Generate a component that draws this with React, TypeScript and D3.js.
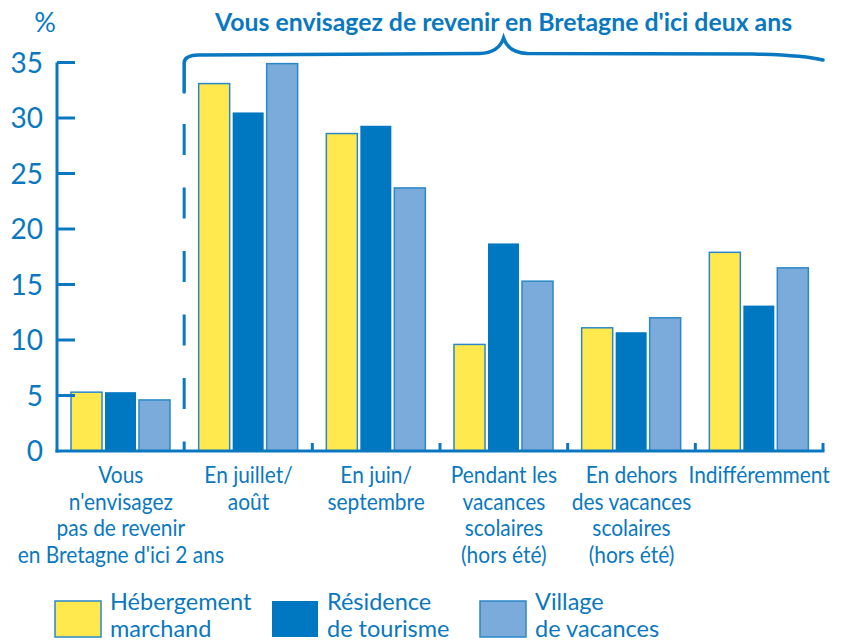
import React from "react";
import * as d3 from "d3";

// categories (x axis), with their wrapped label lines
const categories = ["non", "juillet-aout", "juin-sept", "scolaires", "hors-scolaires", "indiff"];
const categoryLines = [
  ["Vous", "n'envisagez", "pas de revenir", "en Bretagne d'ici 2 ans"],
  ["En juillet/", "août"],
  ["En juin/", "septembre"],
  ["Pendant les", "vacances", "scolaires", "(hors été)"],
  ["En dehors", "des vacances", "scolaires", "(hors été)"],
  ["Indifféremment"],
];

// series
const seriesNames = ["Hébergement marchand", "Résidence de tourisme", "Village de vacances"];
const legendLines = [
  ["Hébergement", "marchand"],
  ["Résidence", "de tourisme"],
  ["Village", "de vacances"],
];
const hebergement = [5.3, 33.1, 28.6, 9.6, 11.1, 17.9];
const residence = [5.3, 30.5, 29.3, 18.7, 10.7, 13.1];
const village = [4.6, 34.9, 23.7, 15.3, 12.0, 16.5];
const seriesValues = [hebergement, residence, village];

const yTicks = [0, 5, 10, 15, 20, 25, 30, 35];
const title = "Vous envisagez de revenir en Bretagne d'ici deux ans";

const BLUE = "#0a78c0";
const fills = ["#ffe94f", "#0078c1", "#7babda"];
const strokes = ["#2a88c8", "none", "#2a88c8"];
const FONT = "Lato, 'Open Sans', sans-serif";

export default function App() {
  const width = 845;
  const height = 642;
  const left = 57;
  const right = 823;
  const top = 62.5;
  const bottom = 451;

  const y = d3.scaleLinear().domain([0, 35]).range([bottom, top]);
  const x = d3.scaleBand().domain(categories).range([left, right]).padding(0);
  const xi = d3
    .scaleBand()
    .domain(seriesNames)
    .range([14, 113])
    .paddingInner(0.088)
    .paddingOuter(0);

  const x0 = x(categories[1])! - 0.5; // dashed separator / bracket start
  const x1 = right;
  const mid = (x0 + x1) / 2;

  const bracket =
    `M${x0},92 L${x0},63 Q${x0},55.5 ${x0 + 14},55 ` +
    `L${mid - 24},53.5 Q${mid - 5},53 ${mid},38 ` +
    `Q${mid + 5},53 ${mid + 24},53.5 L${x1 - 70},54 Q${x1 - 20},55 ${x1},60`;

  return (
    <svg
      width={width}
      height={height}
      style={{ position: "absolute", left: 0, top: 0, background: "#fff" }}
      fontFamily={FONT}
    >
      {/* % label */}
      <text x={45} y={32} fontSize={27} fill={BLUE} textAnchor="middle">
        %
      </text>

      {/* title + curly bracket */}
      <text
        x={mid}
        y={31}
        fontSize={24}
        fontWeight="bold"
        fill={BLUE}
        textAnchor="middle"
        textLength={577}
        lengthAdjust="spacingAndGlyphs"
      >
        {title}
      </text>
      <path d={bracket} fill="none" stroke={BLUE} strokeWidth={3.5} strokeLinecap="round" />
      <line
        x1={x0}
        x2={x0}
        y1={124}
        y2={bottom}
        stroke={BLUE}
        strokeWidth={3}
        strokeDasharray="31 32.5"
      />

      {/* bars */}
      {categories.map((c, ci) => (
        <g key={c} transform={`translate(${x(c)},0)`}>
          {seriesNames.map((s, si) => {
            const v = seriesValues[si][ci];
            return (
              <rect
                key={s}
                x={xi(s)}
                y={y(v)}
                width={xi.bandwidth()}
                height={bottom - y(v)}
                fill={fills[si]}
                stroke={strokes[si]}
                strokeWidth={1.5}
              />
            );
          })}
        </g>
      ))}

      {/* y axis */}
      <line x1={left} x2={left} y1={top} y2={bottom + 1.5} stroke={BLUE} strokeWidth={3} />
      {yTicks.map((t) => (
        <g key={t}>
          {t > 0 && (
            <line x1={left} x2={left + 18} y1={y(t)} y2={y(t)} stroke={BLUE} strokeWidth={3} />
          )}
          <text x={43} y={y(t) + 10} fontSize={28} fill={BLUE} textAnchor="end">
            {t}
          </text>
        </g>
      ))}

      {/* x axis */}
      <line x1={left - 1.5} x2={right + 1.5} y1={bottom} y2={bottom} stroke={BLUE} strokeWidth={3} />
      {categories.slice(2).map((c) => (
        <line key={c} x1={x(c)} x2={x(c)} y1={bottom} y2={bottom - 8} stroke={BLUE} strokeWidth={3} />
      ))}
      <line x1={right} x2={right} y1={bottom} y2={bottom - 8} stroke={BLUE} strokeWidth={3} />

      {/* category labels, slightly condensed like the original typeface */}
      {categories.map((c, ci) => (
        <g key={c} transform={`translate(${x(c)! + x.bandwidth() / 2},0) scale(0.89,1)`}>
          <text fontSize={23.5} fill={BLUE} textAnchor="middle">
            {categoryLines[ci].map((l, li) => (
              <tspan key={li} x={0} y={483 + li * 26.7}>
                {l}
              </tspan>
            ))}
          </text>
        </g>
      ))}

      {/* legend */}
      {seriesNames.map((s, si) => {
        const lx = [55, 272, 480][si];
        return (
          <g key={s}>
            <rect
              x={lx}
              y={601}
              width={46}
              height={36}
              fill={fills[si]}
              stroke={strokes[si]}
              strokeWidth={1.5}
            />
            <text fontSize={23.5} fill={BLUE}>
              <tspan x={lx + 55} y={610}>
                {legendLines[si][0]}
              </tspan>
              <tspan x={lx + 55} y={637}>
                {legendLines[si][1]}
              </tspan>
            </text>
          </g>
        );
      })}
    </svg>
  );
}
